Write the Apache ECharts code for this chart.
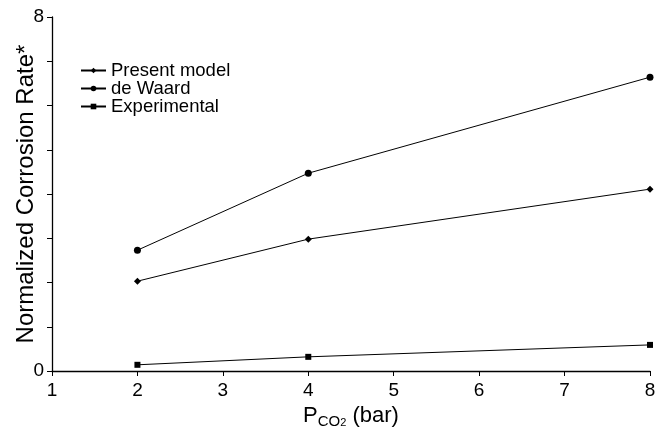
<!DOCTYPE html>
<html><head><meta charset="utf-8">
<script src="https://cdn.jsdelivr.net/npm/echarts@6/dist/echarts.min.js"></script>
<style>html,body{margin:0;padding:0;background:#fff}#c{width:669px;height:437px}</style>
</head><body><div id="c"></div>
<script>
const xValues = [2, 4, 8];
const presentModel = [2.03, 2.98, 4.11];
const deWaard = [2.73, 4.47, 6.64];
const experimental = [0.14, 0.32, 0.59];
const yTickLabels = {0: '0', 8: '8'};

const chart = echarts.init(document.getElementById('c'));
const pair = arr => xValues.map((x, i) => [x, arr[i]]);
const font = 'Liberation Sans, Arial, sans-serif';
const lineStyle = {color: '#000', width: 1};
chart.setOption({
  animation: false,
  textStyle: {fontFamily: font},
  grid: {left: 52, right: 19, top: 17, bottom: 66, containLabel: false, outerBoundsMode: 'none'},
  legend: {
    orient: 'vertical', left: 75, top: 56, itemGap: -1, itemWidth: 25, itemHeight: 7,
    textStyle: {fontSize: 18.5, color: '#000', fontFamily: font, padding: [0, 0, 0, 0]},
    data: ['Present model', 'de Waard', 'Experimental']
  },
  xAxis: {
    type: 'value', min: 1, max: 8, interval: 1,
    axisLine: {lineStyle: {color: '#000', width: 1.3}},
    axisTick: {length: 5, lineStyle: {color: '#000'}},
    axisLabel: {fontSize: 19, color: '#000', margin: 10},
    splitLine: {show: false},
    name: '{p|P}{s|CO}{ss|2}{p| (bar)}', nameLocation: 'middle', nameGap: 28,
    nameTextStyle: {rich: {
      p: {fontSize: 22, color: '#000', fontFamily: font},
      s: {fontSize: 15, color: '#000', fontFamily: font, verticalAlign: 'bottom', padding: [10, 0, 0, 0]},
      ss: {fontSize: 11, color: '#000', fontFamily: font, verticalAlign: 'bottom', padding: [15, 0, 0, 0]}
    }}
  },
  yAxis: {
    type: 'value', min: 0, max: 8, interval: 1,
    axisLine: {show: true, lineStyle: {color: '#000', width: 1.3}},
    axisTick: {show: true, length: 5, lineStyle: {color: '#000'}},
    axisLabel: {fontSize: 19, color: '#000', margin: 8, formatter: v => yTickLabels[v] || ''},
    splitLine: {show: false},
    name: 'Normalized Corrosion Rate*', nameLocation: 'middle', nameGap: 14, nameMoveOverlap: false,
    nameTextStyle: {fontSize: 24, color: '#000', fontFamily: font}
  },
  series: [
    {name: 'Present model', type: 'line', data: pair(presentModel), symbol: 'diamond', symbolSize: 7,
     lineStyle, itemStyle: {color: '#000'}},
    {name: 'de Waard', type: 'line', data: pair(deWaard), symbol: 'circle', symbolSize: 7,
     lineStyle, itemStyle: {color: '#000'}},
    {name: 'Experimental', type: 'line', data: pair(experimental), symbol: 'rect', symbolSize: 6,
     lineStyle, itemStyle: {color: '#000'}}
  ]
});
</script></body></html>
